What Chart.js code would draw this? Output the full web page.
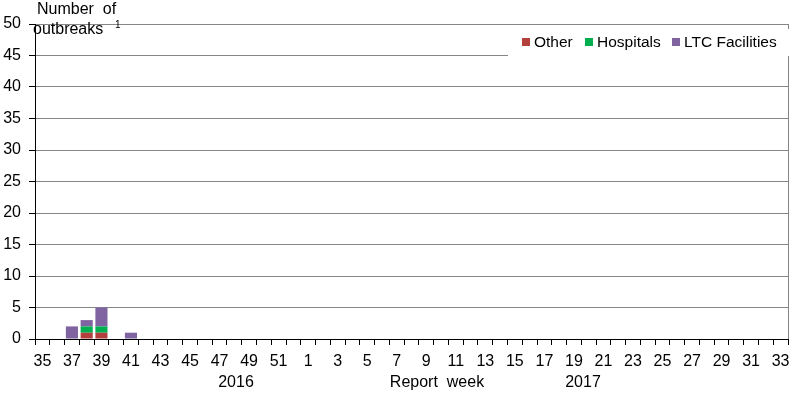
<!DOCTYPE html>
<html>
<head>
<meta charset="utf-8">
<script src="https://cdn.jsdelivr.net/npm/chart.js@4"></script>
<style>
  html, body { margin: 0; padding: 0; background: #fff; }
  #chart { display: block; }
</style>
</head>
<body>
<canvas id="chart" width="797" height="394"></canvas>
<script>
// Report weeks: 2016 weeks 35-52, then 2017 weeks 1-33
const weeks = [35, 36, 37, 38, 39, 40, 41, 42, 43, 44, 45, 46, 47, 48, 49, 50, 51, 52,
  1, 2, 3, 4, 5, 6, 7, 8, 9, 10, 11, 12, 13, 14, 15, 16, 17, 18, 19, 20,
  21, 22, 23, 24, 25, 26, 27, 28, 29, 30, 31, 32, 33];

// Outbreaks per week, by setting
const other = [0, 0, 0, 1, 1, 0, 0, 0, 0, 0, 0, 0, 0, 0, 0, 0, 0, 0,
  0, 0, 0, 0, 0, 0, 0, 0, 0, 0, 0, 0, 0, 0, 0, 0, 0, 0, 0, 0,
  0, 0, 0, 0, 0, 0, 0, 0, 0, 0, 0, 0, 0];
const hospitals = [0, 0, 0, 1, 1, 0, 0, 0, 0, 0, 0, 0, 0, 0, 0, 0, 0, 0,
  0, 0, 0, 0, 0, 0, 0, 0, 0, 0, 0, 0, 0, 0, 0, 0, 0, 0, 0, 0,
  0, 0, 0, 0, 0, 0, 0, 0, 0, 0, 0, 0, 0];
const ltcFacilities = [0, 0, 2, 1, 3, 0, 1, 0, 0, 0, 0, 0, 0, 0, 0, 0, 0, 0,
  0, 0, 0, 0, 0, 0, 0, 0, 0, 0, 0, 0, 0, 0, 0, 0, 0, 0, 0, 0,
  0, 0, 0, 0, 0, 0, 0, 0, 0, 0, 0, 0, 0];

const FONT = "'Liberation Sans', Arial, sans-serif";

// Extra text, right border and legend drawn on top of the chart
const decorations = {
  id: "decorations",
  afterDraw(chart) {
    const ctx = chart.ctx;
    const area = chart.chartArea;
    ctx.save();

    // right border of the plot area
    ctx.strokeStyle = "#868686";
    ctx.lineWidth = 1;
    ctx.beginPath();
    ctx.moveTo(area.right + 0.5, area.top);
    ctx.lineTo(area.right + 0.5, area.bottom);
    ctx.stroke();

    // legend box (white, covers the gridline behind it)
    ctx.fillStyle = "#fff";
    ctx.fillRect(508, 29, 284, 27);

    ctx.font = "15.5px " + FONT;
    ctx.textBaseline = "middle";
    ctx.textAlign = "left";
    const legendX = [522, 585, 672];
    chart.data.datasets.forEach((ds, i) => {
      ctx.fillStyle = ds.backgroundColor;
      ctx.fillRect(legendX[i], 38, 8, 8);
      ctx.fillStyle = "#000";
      ctx.fillText(ds.label, legendX[i] + 12, 43);
    });

    // y axis title
    ctx.fillStyle = "#000";
    ctx.font = "16px " + FONT;
    ctx.fillText("Number  of", 37, 10);
    ctx.fillText("outbreaks", 33, 30);
    ctx.font = "10px " + FONT;
    ctx.fillText("1", 115, 25);

    // x axis titles
    ctx.font = "16px " + FONT;
    ctx.textAlign = "center";
    ctx.fillText("2016", 236, 383);
    ctx.fillText("Report  week", 437, 383);
    ctx.fillText("2017", 583, 383);

    ctx.restore();
  }
};

new Chart(document.getElementById("chart"), {
  type: "bar",
  data: {
    labels: weeks,
    datasets: [
      { label: "Other", data: other, backgroundColor: "#B3403D" },
      { label: "Hospitals", data: hospitals, backgroundColor: "#00AF50" },
      { label: "LTC Facilities", data: ltcFacilities, backgroundColor: "#8064A2" }
    ]
  },
  options: {
    responsive: false,
    animation: false,
    layout: { padding: { top: 24, right: 9, left: 0, bottom: 0 } },
    plugins: {
      legend: { display: false },
      tooltip: { enabled: false }
    },
    datasets: {
      bar: { categoryPercentage: 1.0, barPercentage: 0.82 }
    },
    scales: {
      x: {
        stacked: true,
        offset: true,
        grid: {
          offset: true,
          drawOnChartArea: false,
          tickLength: 6,
          tickColor: "#000"
        },
        border: { color: "#000", width: 1 },
        ticks: {
          autoSkip: false,
          maxRotation: 0,
          minRotation: 0,
          padding: 7,
          color: "#000",
          font: { family: FONT, size: 16 },
          callback: (v, i) => (i % 2 === 0 ? String(weeks[i]) : "")
        },
        afterFit: (scale) => { scale.height = 55; }
      },
      y: {
        stacked: true,
        min: 0,
        max: 50,
        ticks: {
          stepSize: 5,
          padding: 8,
          color: "#000",
          font: { family: FONT, size: 16 }
        },
        grid: {
          color: "#868686",
          tickLength: 6,
          tickColor: "#000"
        },
        border: { color: "#000", width: 1 },
        afterFit: (scale) => { scale.width = 35; }
      }
    }
  },
  plugins: [decorations]
});
</script>
</body>
</html>
